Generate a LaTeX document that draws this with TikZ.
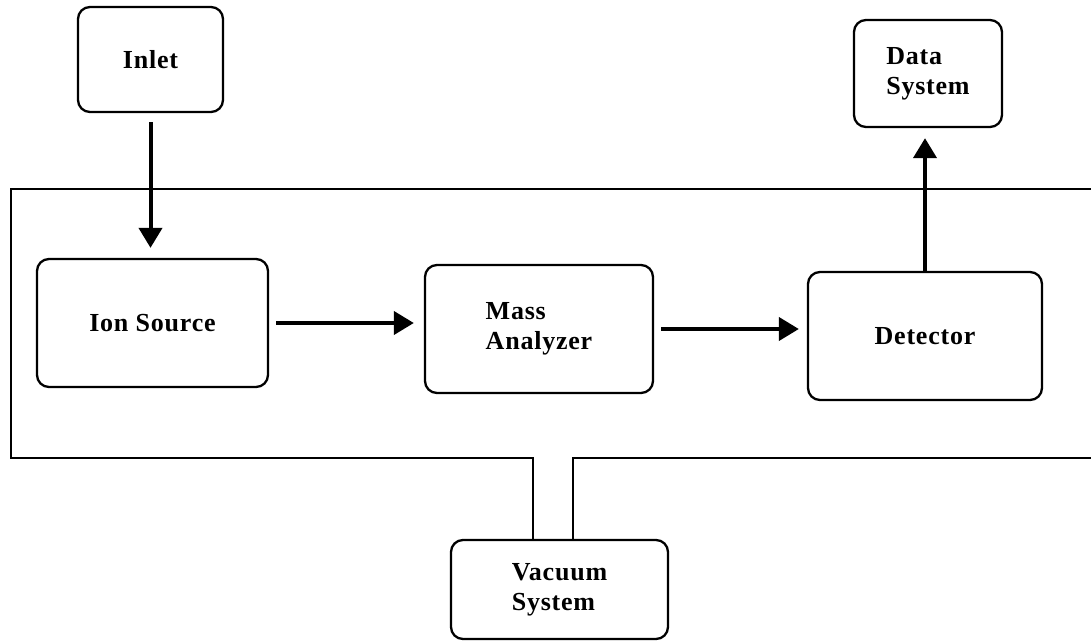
\documentclass[tikz,border=0pt]{standalone}
\usepackage{fontspec}
\setmainfont{Liberation Serif}
\usetikzlibrary{arrows.meta}
\begin{document}
\begin{tikzpicture}[x=1pt,y=-1pt,
  unit/.style={draw, line width=2.3pt, rounded corners=12pt, inner sep=0pt,
    font=\fontsize{26}{30}\selectfont\bfseries\addfontfeatures{LetterSpace=3}, align=left},
  flow/.style={line width=4pt, -{Triangle[length=20pt,width=23pt]}},
  wall/.style={line width=2.3pt}]
\useasboundingbox (0,0) rectangle (1091,642);

% components
\node[unit, minimum width=145pt, minimum height=105pt] (inlet) at (150.5,59.5) {Inlet};
\node[unit, minimum width=148pt, minimum height=107pt] (data) at (928,73.5) {Data\\System};
\node[unit, minimum width=231pt, minimum height=128pt] (ion) at (152.5,323) {Ion Source};
\node[unit, minimum width=228pt, minimum height=128pt] (mass) at (539,329) {Mass\\Analyzer};
\node[unit, minimum width=234pt, minimum height=128pt] (det) at (925,336) {Detector};
\node[unit, minimum width=217pt, minimum height=99pt] (vac) at (559.5,589.5) {Vacuum\\System};

% vacuum housing with the pumping line down to the vacuum system
\coordinate (pipeL) at (533,458);
\coordinate (pipeR) at (573,458);
\draw[wall] (1091,189) -- (11,189) -- (11,458) -- (pipeL) -- (pipeL |- vac.north);
\draw[wall] (pipeR |- vac.north) -- (pipeR) -- (1091,458);

% signal flow
\draw[flow, shorten <=9pt, shorten >=10pt] (inlet.south) -- (inlet.south |- ion.north);
\draw[flow, shorten <=7pt, shorten >=10pt] (ion.east) -- (ion.east -| mass.west);
\draw[flow, shorten <=7pt, shorten >=8pt] (mass.east) -- (mass.east -| det.west);
\draw[flow, shorten >=10pt] (det.north) -- (det.north |- data.south);
\end{tikzpicture}
\end{document}
